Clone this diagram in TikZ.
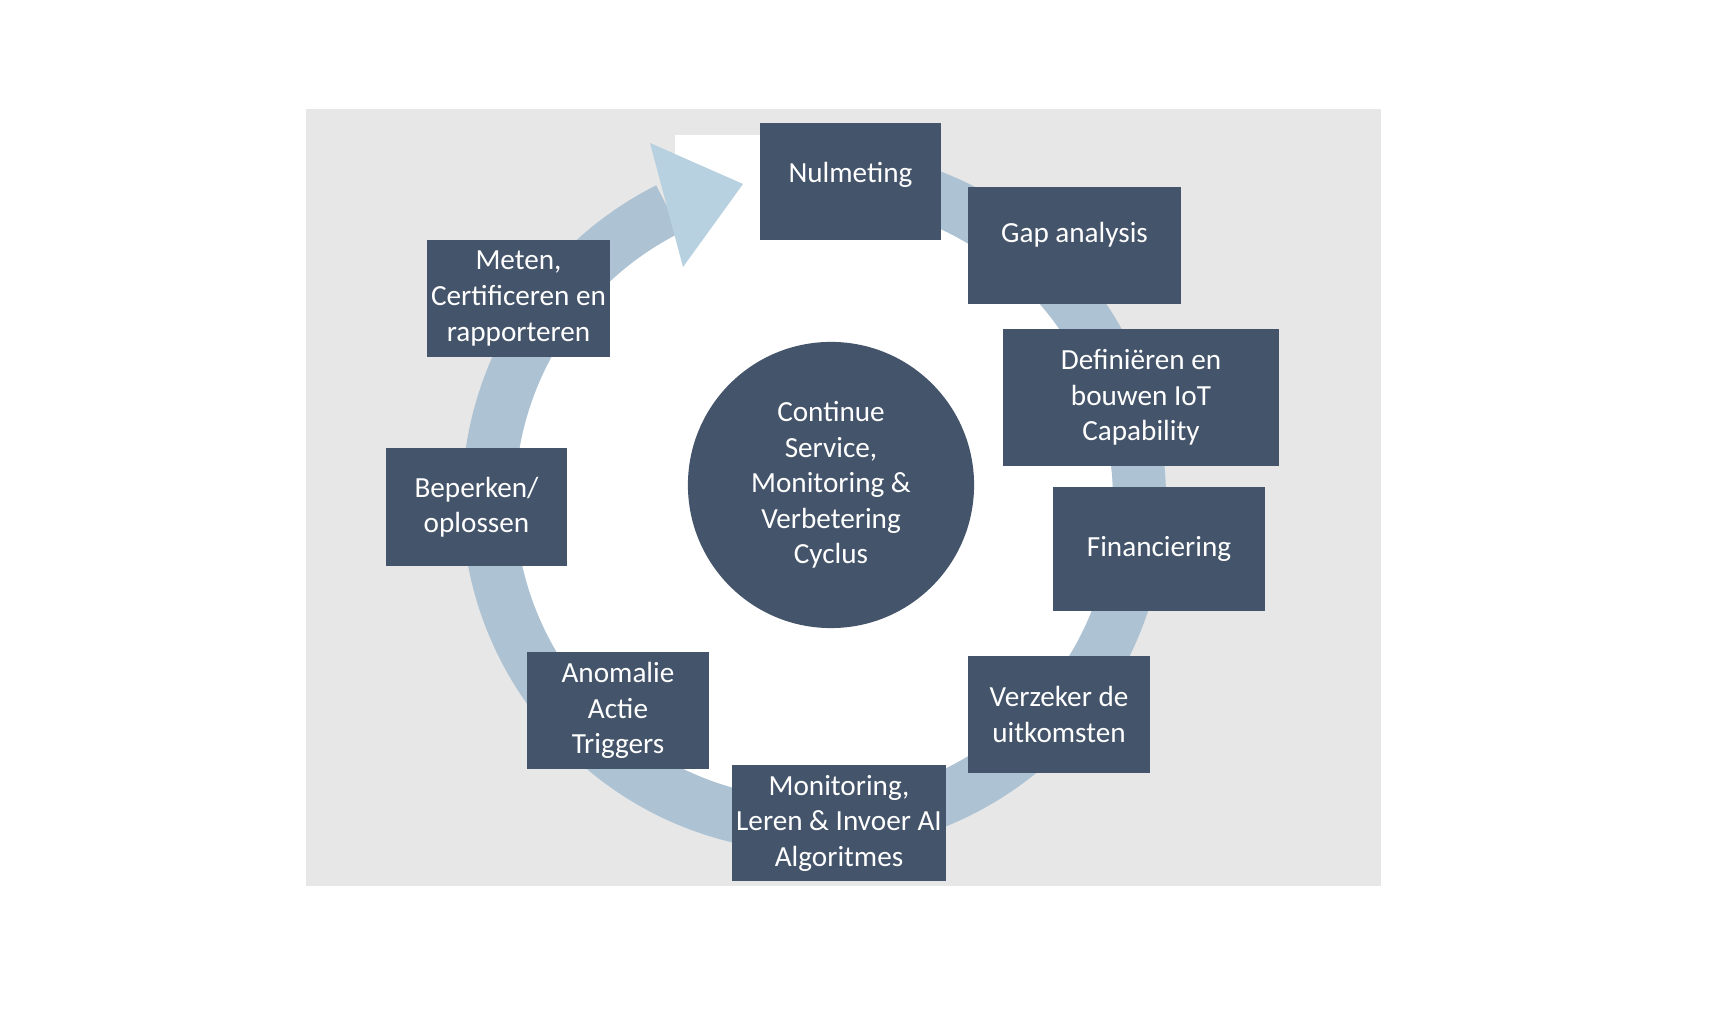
\documentclass[tikz,border=0pt]{standalone}
\usepackage{fontspec}
\setmainfont{Carlito}
\definecolor{achtergrond}{HTML}{E7E7E7}
\definecolor{ringblauw}{HTML}{ADC3D4}
\definecolor{pijlblauw}{HTML}{B8D1E0}
\definecolor{vakblauw}{HTML}{44546A}
\tikzset{
  stap/.style={fill=vakblauw, text=white, inner sep=0pt, align=center},
  kern/.style={circle, fill=vakblauw, text=white, inner sep=0pt, align=center, minimum size=2.86cm}
}
\begin{document}
\begin{tikzpicture}[x=0.01cm,y=-0.01cm, every node/.style={font=\fontsize{8.3}{10.1}\selectfont}]
  \useasboundingbox (0,0) rectangle (1723,1016);
  % achtergrond
  \fill[achtergrond] (306,109) rectangle (1381,886);
  \fill[white] (814,500) circle[radius=299];
  \fill[white] (675,135) rectangle (850,300);
  % ring met pijlkop
  \coordinate (midden) at (814,500);
  \draw[ringblauw, line width=0.53cm] (midden) ++(-80:325.5)
    arc[start angle=-80, end angle=243.4, radius=325.5];
  \fill[pijlblauw] (650,143) -- (743,184) -- (683,267) -- cycle;
  % stappen
  \node[stap, minimum width=1.81cm, minimum height=1.17cm, text depth=0.18cm] (nulmeting) at (850.5,181.5) {Nulmeting};
  \node[stap, minimum width=2.13cm, minimum height=1.17cm, text depth=0.26cm] (gap) at (1074.5,245.5) {Gap analysis};
  \node[stap, minimum width=2.76cm, minimum height=1.37cm] (definieren) at (1141,397.5) {Definiëren en\\bouwen IoT\\Capability};
  \node[stap, minimum width=2.12cm, minimum height=1.24cm] (financiering) at (1159,549) {Financiering};
  \node[stap, minimum width=1.82cm, minimum height=1.17cm] (verzeker) at (1059,714.5) {Verzeker de\\uitkomsten};
  \node[stap, minimum width=2.14cm, minimum height=1.16cm] (monitoring) at (839,823) {Monitoring,\\Leren \& Invoer AI\\Algoritmes};
  \node[stap, minimum width=1.82cm, minimum height=1.17cm] (anomalie) at (618,710.5) {Anomalie\\Actie\\Triggers};
  \node[stap, minimum width=1.81cm, minimum height=1.18cm] (beperken) at (476.5,507) {Beperken/\\oplossen};
  \node[stap, minimum width=1.83cm, minimum height=1.17cm] (meten) at (518.5,298.5) {Meten,\\Certificeren en\\rapporteren};
  % kern
  \node[kern] (cyclus) at (831,485) {Continue\\Service,\\Monitoring \&\\Verbetering\\Cyclus};
\end{tikzpicture}
\end{document}
